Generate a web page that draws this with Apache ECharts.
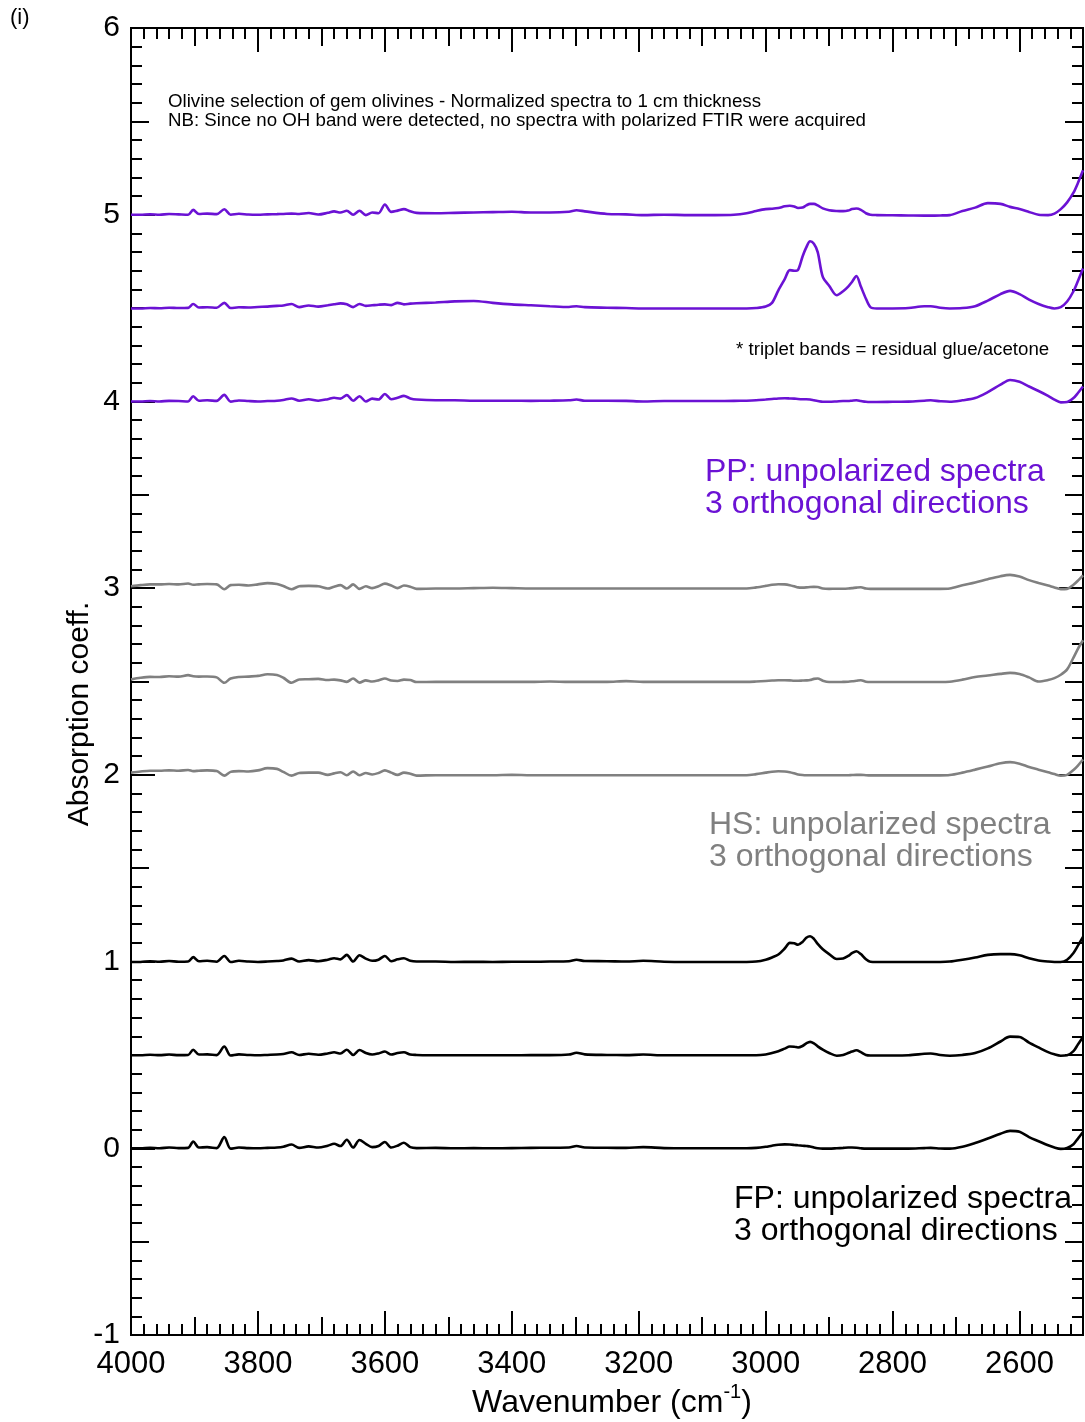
<!DOCTYPE html>
<html><head><meta charset="utf-8">
<script src="https://cdn.jsdelivr.net/npm/echarts@6/dist/echarts.min.js"></script>
<style>html,body{margin:0;padding:0;background:#fff}#c{width:1085px;height:1422px}</style>
</head><body><div id="c"></div>
<script>
// Wavenumber grid (cm-1)
const wavenumbers = [4000,3985,3970,3955,3940,3925,3910,3902,3893,3880,3865,3853,3843,3830,3815,3800,3785,3770,3760,3747,3735,3720,3705,3690,3680,3670,3660,3650,3640,3630,3620,3610,3600,3590,3580,3570,3560,3550,
3520,3490,3460,3430,3400,3370,3340,3310,3298,3285,3250,3220,3193,3160,3120,3080,3050,
3030,3015,3000,2990,2980,2970,2962,2955,2949,2942,2936,2930,2924,2918,2910,2900,2888,2878,2870,2864,2857,2850,2842,2835,2825,
2800,2775,2750,2740,2725,2710,2690,2670,2650,2630,2615,2600,2585,2570,2555,2545,2535,2525,2515,2508,2500];

// PP spectra
const ppTop = [5.000,5.000,5.002,5.000,5.004,5.002,5.000,5.026,5.004,5.006, 5.003,5.029,5.000,5.005,5.001,5.000,5.002,5.003,5.004,5.006, 5.004,5.009,5.001,5.010,5.018,5.012,5.021,5.000,5.021,4.998, 5.012,5.008,5.055,5.015,5.022,5.030,5.018,5.010,
5.008,5.010,5.012,5.014,5.016,5.012,5.012,5.016,5.024,5.018, 5.004,5.002,4.998,5.000,4.998,4.998,5.000,
5.008,5.020,5.030,5.032,5.036,5.045,5.048,5.044,5.036,5.038, 5.050,5.058,5.058,5.050,5.034,5.024,5.020,5.019,5.022,5.030, 5.033,5.026,5.008,5.000,4.998,
4.997,4.996,4.995,4.995,4.996,4.998,5.020,5.038,5.062,5.058, 5.042,5.030,5.015,5.000,4.998,5.006,5.030,5.066,5.118,5.170, 5.238];
const ppMid = [4.498,4.498,4.500,4.499,4.502,4.500,4.501,4.522,4.503,4.504, 4.502,4.528,4.500,4.504,4.503,4.506,4.508,4.512,4.514,4.522, 4.505,4.514,4.508,4.515,4.520,4.525,4.520,4.505,4.522,4.512, 4.515,4.518,4.520,4.516,4.528,4.520,4.524,4.526,
4.530,4.536,4.538,4.528,4.520,4.515,4.510,4.506,4.510,4.505, 4.502,4.500,4.498,4.498,4.498,4.498,4.498,
4.498,4.500,4.508,4.528,4.595,4.655,4.703,4.700,4.705,4.775, 4.825,4.858,4.845,4.800,4.667,4.620,4.569,4.590,4.615,4.640, 4.672,4.615,4.550,4.505,4.498,
4.498,4.500,4.510,4.510,4.502,4.498,4.500,4.510,4.540,4.575, 4.592,4.575,4.545,4.522,4.505,4.498,4.505,4.535,4.590,4.645, 4.712];
const ppBot = [4.000,4.000,4.002,4.000,4.003,4.002,4.000,4.028,4.004,4.006, 4.003,4.035,3.999,4.005,4.002,4.000,4.002,4.004,4.008,4.016, 4.004,4.012,4.004,4.012,4.020,4.015,4.034,4.004,4.028,4.000, 4.015,4.010,4.040,4.012,4.020,4.030,4.016,4.010,
4.006,4.006,4.004,4.004,4.004,4.003,4.004,4.006,4.010,4.004, 4.004,4.003,4.000,4.002,4.002,4.002,4.003,
4.004,4.006,4.010,4.013,4.016,4.017,4.016,4.015,4.013,4.012, 4.012,4.010,4.006,4.002,3.998,3.998,4.000,4.002,4.002,4.004, 4.006,4.002,3.998,3.997,3.997,
3.998,3.999,4.004,4.006,4.001,3.998,4.006,4.018,4.050,4.090, 4.115,4.105,4.080,4.056,4.030,4.010,3.995,3.997,4.018,4.045, 4.080];

// HS spectra
const hsTop = [3.010,3.016,3.020,3.020,3.022,3.020,3.025,3.018,3.020,3.022, 3.020,2.994,3.016,3.018,3.014,3.020,3.027,3.022,3.012,2.994, 3.010,3.012,3.010,2.998,3.008,3.016,2.998,3.020,2.996,3.010, 3.000,3.010,3.024,3.014,3.000,3.014,3.008,2.996,
2.998,2.998,3.000,3.002,3.000,2.998,2.998,2.998,2.998,2.998, 2.998,2.998,2.998,2.998,2.998,2.998,2.998,
2.998,3.004,3.012,3.018,3.021,3.020,3.016,3.010,3.004,3.003, 3.004,3.006,3.007,3.006,2.998,2.996,2.997,2.997,2.998,3.000, 3.003,3.005,2.998,2.996,2.996,
2.996,2.996,2.996,2.996,2.996,2.998,3.015,3.030,3.048,3.064, 3.071,3.062,3.043,3.028,3.014,3.004,2.995,2.996,3.018,3.040, 3.069];
const hsMid = [2.511,2.520,2.525,2.524,2.528,2.526,2.534,2.528,2.526,2.527, 2.522,2.493,2.516,2.524,2.526,2.530,2.539,2.535,2.520,2.493, 2.511,2.512,2.514,2.508,2.510,2.506,2.498,2.516,2.494,2.506, 2.500,2.506,2.516,2.505,2.503,2.510,2.508,2.497,
2.498,2.498,2.498,2.498,2.498,2.498,2.500,2.498,2.498,2.498, 2.498,2.502,2.498,2.498,2.498,2.498,2.498,
2.498,2.500,2.503,2.505,2.507,2.507,2.506,2.504,2.504,2.505, 2.506,2.508,2.514,2.516,2.504,2.497,2.497,2.498,2.499,2.501, 2.504,2.507,2.499,2.497,2.497,
2.497,2.497,2.497,2.497,2.497,2.499,2.510,2.524,2.532,2.541, 2.546,2.540,2.522,2.500,2.508,2.518,2.536,2.565,2.628,2.675, 2.721];
const hsBot = [2.012,2.018,2.022,2.022,2.024,2.022,2.026,2.020,2.022,2.024, 2.020,1.996,2.016,2.020,2.018,2.024,2.036,2.032,2.016,1.996, 2.010,2.012,2.012,2.000,2.008,2.014,1.998,2.018,1.998,2.010, 2.002,2.010,2.024,2.012,2.000,2.012,2.006,1.996,
1.998,1.998,1.998,1.998,2.000,1.998,1.998,1.998,1.998,1.998, 1.998,1.998,1.998,1.998,1.998,1.998,1.998,
1.998,2.004,2.012,2.017,2.019,2.018,2.014,2.008,2.002,1.999, 1.998,1.998,1.998,1.998,1.998,1.998,1.998,1.998,1.998,1.999, 2.000,2.000,1.998,1.997,1.997,
1.997,1.997,1.997,1.997,1.997,1.999,2.012,2.028,2.045,2.062, 2.068,2.060,2.042,2.028,2.014,2.004,1.995,2.000,2.026,2.050, 2.082];

// FP spectra
const fpTop = [0.998,0.998,1.002,0.999,1.003,0.999,1.000,1.024,1.002,1.004, 0.999,1.030,0.998,1.004,1.000,0.998,1.000,1.003,1.006,1.016, 1.000,1.008,1.002,1.010,1.018,1.012,1.036,1.000,1.034,1.016, 1.004,1.010,1.030,1.002,1.012,1.018,1.004,1.000,
1.000,0.998,0.999,0.998,0.999,0.999,1.000,1.002,1.010,1.003, 1.002,1.000,1.004,0.999,0.998,0.998,0.998,
0.998,1.000,1.010,1.022,1.038,1.070,1.100,1.098,1.090,1.105, 1.128,1.136,1.122,1.095,1.066,1.040,1.014,1.016,1.030,1.045, 1.055,1.040,1.012,0.999,0.998,
0.998,0.998,0.998,0.998,0.998,1.000,1.010,1.022,1.036,1.040, 1.040,1.034,1.018,1.006,1.000,0.998,0.998,1.010,1.046,1.085, 1.132];
const fpMid = [0.498,0.498,0.501,0.499,0.502,0.499,0.500,0.528,0.502,0.503, 0.499,0.545,0.497,0.503,0.500,0.498,0.500,0.502,0.505,0.514, 0.500,0.506,0.501,0.508,0.514,0.508,0.528,0.500,0.526,0.510, 0.502,0.508,0.518,0.502,0.510,0.514,0.502,0.500,
0.498,0.498,0.498,0.498,0.498,0.499,0.499,0.502,0.512,0.503, 0.500,0.499,0.502,0.498,0.498,0.498,0.498,
0.498,0.498,0.502,0.510,0.520,0.534,0.545,0.544,0.540,0.548, 0.562,0.570,0.562,0.546,0.528,0.510,0.496,0.500,0.510,0.518, 0.525,0.515,0.500,0.497,0.497,
0.497,0.498,0.506,0.508,0.500,0.496,0.500,0.510,0.535,0.572, 0.598,0.596,0.566,0.540,0.515,0.503,0.496,0.498,0.520,0.556, 0.596];
const fpBot = [0.000,0.000,0.003,0.000,0.004,0.001,0.002,0.036,0.004,0.006, 0.001,0.060,-0.002,0.004,0.001,0.000,0.002,0.004,0.008,0.020, 0.002,0.010,0.004,0.014,0.024,0.012,0.046,0.004,0.044,0.024, 0.006,0.012,0.034,0.004,0.014,0.030,0.006,0.001,
0.002,0.000,0.001,0.000,0.001,0.002,0.003,0.004,0.012,0.004, 0.003,0.002,0.006,0.001,0.000,0.000,0.000,
0.000,0.002,0.008,0.014,0.019,0.021,0.020,0.018,0.016,0.014, 0.012,0.010,0.004,0.000,-0.002,-0.002,0.000,0.002,0.004,0.004, 0.003,0.000,-0.002,-0.002,-0.002,
-0.002,-0.002,0.001,0.002,-0.001,-0.002,0.008,0.028,0.052,0.078, 0.093,0.088,0.060,0.038,0.016,0.004,-0.003,0.002,0.022,0.052, 0.087];

// Axis tick labels
const xMajorTicks = [2600,2800,3000,3200,3400,3600,3800,4000];
const yTickLabels = ['-1','0','1','2','3','4','5','6'];

const PURPLE = '#6b12d4', GRAY = '#808080', BLACK = '#000000';
const FONT = "'Liberation Sans', Arial, Helvetica, sans-serif";

const chart = echarts.init(document.getElementById('c'), null, {renderer:'canvas'});

const tickStyle = {color:'#000', width:2};
const axLine = {show:true, onZero:false, lineStyle:{color:'#000', width:2}};

function xAx(pos, labels, len, minor, custom){
  const t = {show:true, inside:true, length:len, lineStyle:tickStyle};
  if (custom) t.customValues = custom;
  return {type:'value', gridIndex:0, position:pos, min:2500, max:4000, inverse:true, interval:100,
    axisLine:axLine, splitLine:{show:false}, axisTick:t,
    minorTick:{show:minor, splitNumber:5, length:11, lineStyle:tickStyle},
    axisLabel:{show:labels, color:'#000', fontSize:31, fontFamily:FONT, margin:14,
      formatter:(v)=> (xMajorTicks.indexOf(v) >= 0 ? String(v) : '')}};
}
function yAx(pos, labels, len, interval, minor){
  return {type:'value', gridIndex:0, position:pos, min:-1, max:6, interval:interval,
    axisLine:axLine, splitLine:{show:false},
    axisTick:{show:true, inside:true, length:len, lineStyle:tickStyle},
    minorTick:{show:minor, splitNumber:10, length:11, lineStyle:tickStyle},
    axisLabel:{show:labels, color:'#000', fontSize:30, fontFamily:FONT, margin:11,
      formatter:(v)=> yTickLabels[Math.round(v)+1]}};
}

function line(vals, color, name){
  return {type:'line', name:name, xAxisIndex:0, yAxisIndex:0,
    data: wavenumbers.map((w,i)=>[w, vals[i]]),
    showSymbol:false, smooth:0.3, silent:true, clip:true, z:3,
    lineStyle:{color:color, width:2.6}, itemStyle:{color:color}};
}

function txt(x, y, text, size, color, align){
  return {type:'text', x:x, y:y, silent:true, z:10,
    style:{text:text, fill:color, fontSize:size, fontFamily:FONT, align:align||'left', verticalAlign:'middle'}};
}

chart.setOption({
  animation:false,
  backgroundColor:'#fff',
  grid:{left:131, right:2, top:28, bottom:87, containLabel:false, outerBoundsMode:'none'},
  xAxis:[
    xAx('bottom', true, 18, true),
    xAx('bottom', false, 24, false, xMajorTicks),
    xAx('top', false, 18, true),
    xAx('top', false, 24, false, xMajorTicks)
  ],
  yAxis:[
    yAx('left', true, 24, 1, true),
    yAx('left', false, 18, 0.5, false),
    yAx('right', false, 24, 1, true),
    yAx('right', false, 18, 0.5, false)
  ],
  series:[
    line(ppTop, PURPLE, 'PP a'), line(ppMid, PURPLE, 'PP b'), line(ppBot, PURPLE, 'PP c'),
    line(hsTop, GRAY, 'HS a'), line(hsMid, GRAY, 'HS b'), line(hsBot, GRAY, 'HS c'),
    line(fpTop, BLACK, 'FP a'), line(fpMid, BLACK, 'FP b'), line(fpBot, BLACK, 'FP c')
  ],
  graphic:[
    txt(10, 18, '(i)', 22, '#000'),
    txt(168, 102, 'Olivine selection of gem olivines - Normalized spectra to 1 cm thickness', 18.7, '#000'),
    txt(168, 121, 'NB: Since no OH band were detected, no spectra with polarized FTIR were acquired', 18.7, '#000'),
    txt(736, 350, '* triplet bands = residual glue/acetone', 18.7, '#000'),
    txt(705, 472, 'PP: unpolarized spectra', 32, PURPLE),
    txt(705, 504, '3 orthogonal directions', 32, PURPLE),
    txt(709, 825, 'HS: unpolarized spectra', 32, GRAY),
    txt(709, 857, '3 orthogonal directions', 32, GRAY),
    txt(734, 1199, 'FP: unpolarized spectra', 32, BLACK),
    txt(734, 1231, '3 orthogonal directions', 32, BLACK),
    {type:'text', x:80, y:714, rotation:Math.PI/2, silent:true,
      style:{text:'Absorption coeff.', fill:'#000', fontSize:30, fontFamily:FONT, align:'center', verticalAlign:'middle'}},
    {type:'text', x:612, y:1403, silent:true,
      style:{text:'Wavenumber (cm{s|-1})', fill:'#000', fontSize:32, fontFamily:FONT, align:'center', verticalAlign:'middle',
        rich:{s:{fontSize:20, fontFamily:FONT, fill:'#000', padding:[0,0,22,0]}}}}
  ]
});
</script>
</body></html>
